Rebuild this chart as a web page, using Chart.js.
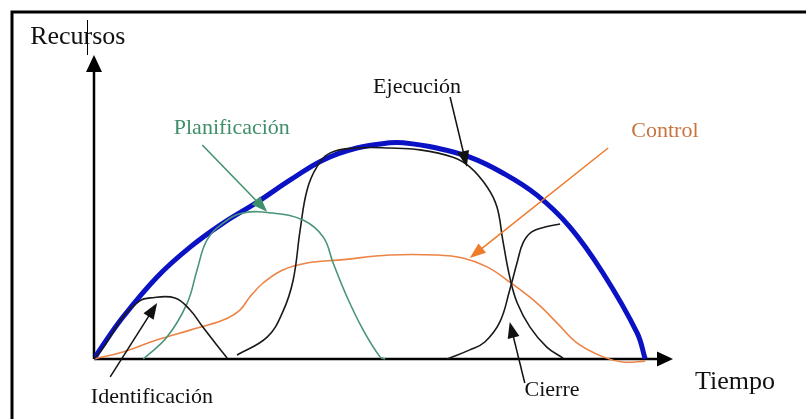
<!DOCTYPE html>
<html>
<head>
<meta charset="utf-8">
<script src="https://cdn.jsdelivr.net/npm/chart.js@4.4.1/dist/chart.umd.min.js"></script>
<style>
  html, body { margin: 0; padding: 0; background: #fff; }
  #wrap { width: 806px; height: 419px; position: relative; }
</style>
</head>
<body>
<div id="wrap"><canvas id="fases"></canvas></div>
<script>
// curvas de recursos por fase (tiempo 0-100, recursos 0-100)
const tiempoTotal = [0, 1.0, 5.0, 10.9, 16.6, 22.3, 28.2, 33.9, 39.6, 45.4, 51.1, 53.4, 59.2, 64.9, 70.6, 76.5, 82.2, 87.9, 93.8, 95.2];
const recursosTotal = [0, 3.0, 13.8, 27.0, 36.8, 44.7, 51.6, 58.9, 65.5, 69.4, 71.1, 71.1, 69.4, 66.4, 61.2, 53.9, 43.4, 28.3, 8.6, 0];

const tiempoIdent = [0, 1.9, 5.0, 7.9, 9.7, 14.0, 16.6, 18.8, 21.2, 23.0];
const recursosIdent = [0, 4.6, 13.8, 19.1, 20.1, 20.1, 16.1, 10.5, 4.6, 0.3];

const tiempoPlan = [8.5, 12.6, 16.1, 17.8, 19.5, 22.3, 25.7, 30.9, 36.1, 39.6, 41.3, 43.7, 46.5, 49.4, 50.3];
const recursosPlan = [0, 7.2, 18.4, 29.3, 39.1, 44.7, 48.0, 48.0, 45.7, 40.1, 31.6, 20.4, 9.5, 0.7, 0];

const tiempoEjec = [24.7, 29.9, 32.6, 34.4, 35.6, 36.8, 38.5, 40.8, 45.4, 51.1, 56.3, 62.0, 64.9, 67.9, 69.6, 70.6, 71.8, 73.1, 75.3, 78.2, 81.0];
const recursosEjec = [1.3, 7.2, 15.5, 26.0, 42.4, 55.6, 63.2, 67.8, 69.4, 69.4, 68.8, 66.4, 63.2, 56.6, 50.0, 39.1, 27.0, 18.4, 10.5, 3.9, 0.3];

const tiempoCierre = [61.0, 64.9, 67.5, 70.1, 71.8, 73.1, 74.1, 75.6, 77.9, 80.5];
const recursosCierre = [0, 3.0, 5.6, 12.2, 22.7, 31.9, 38.2, 41.8, 43.4, 44.4];

const tiempoControl = [0, 5.0, 10.9, 16.6, 22.3, 25.2, 26.9, 29.2, 32.6, 36.8, 42.5, 51.1, 59.2, 63.7, 67.9, 71.8, 76.5, 80.0, 83.4, 87.9, 91.4, 95.2];
const recursosControl = [0, 2.3, 6.3, 9.5, 12.8, 16.1, 20.4, 25.0, 29.3, 31.6, 32.6, 34.2, 34.2, 33.2, 30.3, 25.3, 18.4, 11.8, 5.3, 0.7, -1.0, -0.7];

const etiquetasFases = ['Identificación', 'Planificación', 'Ejecución', 'Cierre', 'Control'];
const tituloEjeY = 'Recursos';
const tituloEjeX = 'Tiempo';

function puntos(xs, ys) {
  return xs.map((x, i) => ({ x: x, y: ys[i] }));
}

function serie(xs, ys, color, ancho) {
  return {
    data: puntos(xs, ys),
    showLine: true,
    borderColor: color,
    borderWidth: ancho,
    pointRadius: 0,
    tension: 0.4,
    fill: false
  };
}

// flechas de las etiquetas (en unidades de datos)
const notas = [
  { texto: etiquetasFases[0], color: '#111', at: [10.0, -12.5], desde: [2.8, -5.9], hasta: [10.9, 18.4] },
  { texto: etiquetasFases[1], color: '#3f8f6a', at: [23.8, 76.0], desde: [18.7, 70.4], hasta: [29.9, 48.4] },
  { texto: etiquetasFases[2], color: '#111', at: [55.8, 89.5], desde: [61.5, 86.2], hasta: [64.4, 63.2] },
  { texto: etiquetasFases[3], color: '#111', at: [79.1, -10.2], desde: [74.4, -7.9], hasta: [71.8, 12.2] },
  { texto: etiquetasFases[4], color: '#c8743f', flecha: '#ef7a2a', at: [98.6, 75.0], desde: [88.8, 69.4], hasta: [64.9, 33.2] }
];

function punta(ctx, x0, y0, x1, y1, largo, ancho, color) {
  const a = Math.atan2(y1 - y0, x1 - x0);
  ctx.save();
  ctx.translate(x1, y1);
  ctx.rotate(a);
  ctx.beginPath();
  ctx.moveTo(0, 0);
  ctx.lineTo(-largo, -ancho / 2);
  ctx.lineTo(-largo, ancho / 2);
  ctx.closePath();
  ctx.fillStyle = color;
  ctx.fill();
  ctx.restore();
}

const dibujoExtra = {
  id: 'dibujoExtra',
  beforeDraw(chart) {
    const ctx = chart.ctx;
    ctx.save();
    ctx.fillStyle = '#fff';
    ctx.fillRect(0, 0, chart.width, chart.height);
    // marco
    ctx.strokeStyle = '#000';
    ctx.lineWidth = 3;
    ctx.beginPath();
    ctx.moveTo(12, chart.height);
    ctx.lineTo(12, 12);
    ctx.lineTo(chart.width, 12);
    ctx.stroke();
    // ejes
    const sx = chart.scales.x, sy = chart.scales.y;
    const x0 = sx.getPixelForValue(0), y0 = sy.getPixelForValue(0);
    const yTop = sy.getPixelForValue(100), xEnd = sx.getPixelForValue(100);
    ctx.lineWidth = 2.5;
    ctx.beginPath();
    ctx.moveTo(x0, y0);
    ctx.lineTo(x0, yTop + 14);
    ctx.moveTo(x0, y0);
    ctx.lineTo(xEnd - 14, y0);
    ctx.stroke();
    punta(ctx, x0, y0, x0, yTop, 17, 16, '#000');
    punta(ctx, x0, y0, xEnd, y0, 16, 15, '#000');
    // cursor de texto
    ctx.lineWidth = 1;
    ctx.beginPath();
    ctx.moveTo(87.5, 20);
    ctx.lineTo(87.5, 55);
    ctx.stroke();
    ctx.restore();
  },
  afterDatasetsDraw(chart) {
    const ctx = chart.ctx;
    const sx = chart.scales.x, sy = chart.scales.y;
    const px = v => sx.getPixelForValue(v), py = v => sy.getPixelForValue(v);
    ctx.save();
    ctx.textAlign = 'center';
    ctx.textBaseline = 'middle';
    ctx.fillStyle = '#111';
    ctx.font = '26px "Liberation Serif", "DejaVu Serif", serif';
    ctx.fillText(tituloEjeY, px(-2.8), py(105.9));
    ctx.fillText(tituloEjeX, px(110.7), py(-7.6));
    ctx.font = '22px "Liberation Serif", "DejaVu Serif", serif';
    notas.forEach(n => {
      const c = n.flecha || n.color;
      const xa = px(n.desde[0]), ya = py(n.desde[1]);
      const xb = px(n.hasta[0]), yb = py(n.hasta[1]);
      ctx.strokeStyle = c;
      ctx.lineWidth = 1.5;
      ctx.beginPath();
      ctx.moveTo(xa, ya);
      const d = Math.hypot(xb - xa, yb - ya);
      ctx.lineTo(xb - (xb - xa) * 12 / d, yb - (yb - ya) * 12 / d);
      ctx.stroke();
      punta(ctx, xa, ya, xb, yb, 16, 12, c);
      ctx.fillStyle = n.color;
      ctx.fillText(n.texto, px(n.at[0]), py(n.at[1]));
    });
    ctx.restore();
  }
};

new Chart(document.getElementById('fases'), {
  type: 'scatter',
  data: {
    datasets: [
      serie(tiempoIdent, recursosIdent, '#1a1a1a', 1.6),
      serie(tiempoPlan, recursosPlan, '#4a9478', 1.6),
      serie(tiempoEjec, recursosEjec, '#1a1a1a', 1.6),
      serie(tiempoCierre, recursosCierre, '#1a1a1a', 1.6),
      serie(tiempoControl, recursosControl, '#ec8446', 1.6),
      serie(tiempoTotal, recursosTotal, '#0b12c4', 5)
    ]
  },
  options: {
    responsive: true,
    maintainAspectRatio: false,
    animation: false,
    layout: { padding: { left: 94, right: 133, top: 55, bottom: 29.6 } },
    scales: {
      x: { type: 'linear', min: 0, max: 100, display: false },
      y: { type: 'linear', min: -10, max: 100, display: false }
    },
    plugins: {
      legend: { display: false },
      tooltip: { enabled: false }
    }
  },
  plugins: [dibujoExtra]
});
</script>
</body>
</html>
